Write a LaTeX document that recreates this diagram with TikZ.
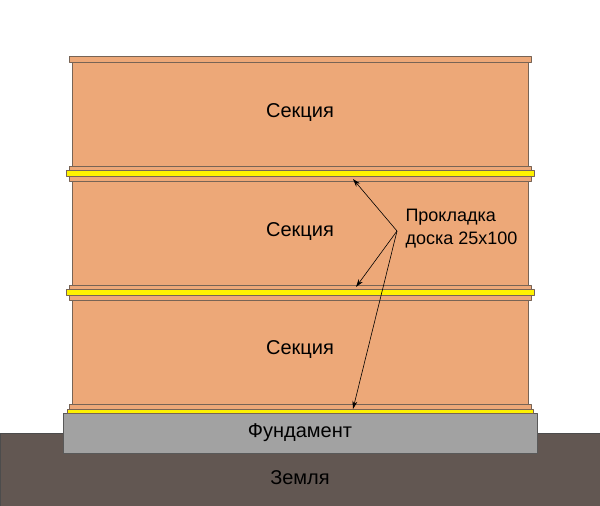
\documentclass[tikz,border=0pt]{standalone}
\usepackage{fontspec}
\usetikzlibrary{arrows.meta}
\setmainfont{Liberation Sans}
\definecolor{woodc}{RGB}{237,168,120}
\definecolor{edgec}{RGB}{120,100,85}
\definecolor{groundc}{RGB}{98,87,82}
\definecolor{fundc}{RGB}{162,162,162}
\begin{document}
\begin{tikzpicture}[>={Stealth[length=8pt,width=5pt]},x=1pt,y=-1pt,font=\fontsize{18}{23}\selectfont,line join=round,
	wood/.style={fill=woodc,draw=edgec,line width=0.8pt},
	strip/.style={fill=yellow,draw=edgec,line width=0.8pt},
	big/.style={font=\fontsize{20}{24}\selectfont}]
	\useasboundingbox (0,0) rectangle (600,506);
	% ground and foundation
	\filldraw[fill=groundc,draw=black!70] (0,433) rectangle (600,506);
	\node[big] (zemlya) at (300,478) {Земля};
	\filldraw[fill=fundc,draw=black!65,line width=0.8pt] (63,413) rectangle (537,453);
	\node[big] (fund) at (300,433) {Фундамент};
	% sections
	\foreach \y/\n in {62/1,181/2,299/3}
	{\draw[wood] (72,\y) rectangle (528,\y+105);
	\node[big] (sec\n) at (300,\y+51) {Секция};}
	\draw[wood] (69,56) rectangle (531,62);
	\foreach \y in {166,285}
	{\draw[wood] (69,\y) rectangle (531,\y+15);
	\draw[strip] (66,\y+4) rectangle (534,\y+10);}
	\draw[wood] (69,404) rectangle (531,410);
	\draw[strip] (67,409) rectangle (533,413);
	% label and arrows
	\node[anchor=west,align=left] (label) at (402,229) {Прокладка\\доска 25x100};
	\coordinate (tip) at (397,231);
	\coordinate (s1) at (353,179);
	\coordinate (s2) at (356,287);
	\coordinate (s3) at (353,409);
	\foreach \s in {s1,s2,s3}
	\draw[->,line width=0.6pt] (tip) -- (\s);
\end{tikzpicture}
\end{document}
